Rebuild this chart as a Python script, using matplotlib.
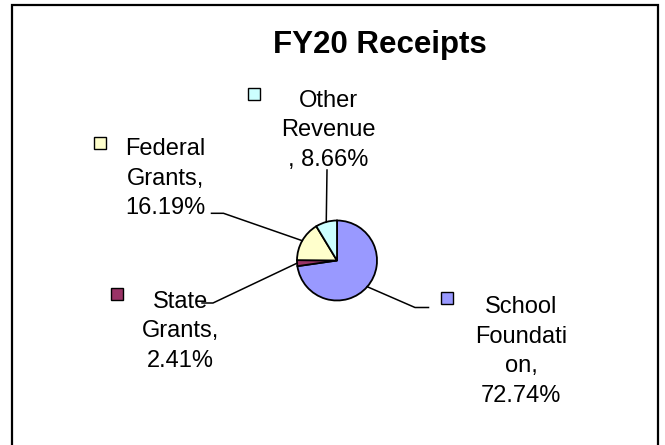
import numpy as np
import matplotlib.pyplot as plt
from matplotlib.patches import Rectangle

# Data
categories = ['School\nFoundati\non', 'State\nGrants', 'Federal\nGrants', 'Other\nRevenue\n']
shares = [72.74, 2.41, 16.19, 8.66]
colors = ['#9999FF', '#993366', '#FFFFCC', '#CCFFFF']
title = 'FY20 Receipts'

# Layout (pixel coords, y measured from top of image)
W, H = 665, 445
pie_center = (337, 260.5)
pie_radius = 40
label_pos = [(521, 401.7), (180.5, 366.7), (165, 214), (328, 165.7)]   # centre x, last baseline
marker_pos = [(446.5, 297.5), (116.5, 293.5), (99.5, 143), (254, 93.5)]
leader_elbow = [(415, 307.5), (213, 303), (223.5, 213.3), (327, 170)]
leader_end = [(428.5, 307.5), (202, 303), (211.5, 213.3), (327, 170)]

fig = plt.figure(figsize=(W / 100, H / 100), dpi=100)
ax = fig.add_axes([0, 0, 1, 1])

def flip(p):
    return (p[0], H - p[1])

wedges, _ = ax.pie(shares, colors=colors, startangle=90, counterclock=False,
                   center=flip(pie_center), radius=pie_radius,
                   wedgeprops=dict(edgecolor='black', linewidth=1.3))
ax.set_xlim(0, W)
ax.set_ylim(0, H)
ax.set_aspect('auto')
ax.axis('off')

font = 'Liberation Sans'
for i, w in enumerate(wedges):
    mid = np.deg2rad((w.theta1 + w.theta2) / 2)
    cx, cy = flip(pie_center)
    rim = (cx + pie_radius * np.cos(mid), cy + pie_radius * np.sin(mid))
    el = flip(leader_elbow[i])
    en = flip(leader_end[i])
    ax.plot([rim[0], el[0], en[0]], [rim[1], el[1], en[1]], color='black', lw=1.1, zorder=5)

    # Excel-style label: "name, value%" wrapped the same way as the source
    txt = categories[i] + ', ' + f'{shares[i]:.2f}%'
    txt = txt.replace(', ', ',\n') if not categories[i].endswith('\n') else txt
    lx, ly = flip(label_pos[i])
    ax.text(lx, ly, txt, ha='center', va='baseline', multialignment='center',
            fontsize=17, family=font, linespacing=1.44, zorder=4)

    mx, my = flip(marker_pos[i])
    ax.plot(mx, my, marker='s', markersize=9, markerfacecolor=colors[i],
            markeredgecolor='black', markeredgewidth=1.0, linestyle='none')

tx, ty = flip((380, 53))
ax.text(tx, ty, title, ha='center', va='baseline', fontsize=22.5,
        fontweight='bold', family=font)

# chart frame (bottom edge falls outside the picture)
fig.patches.append(Rectangle((12, -20), 645.5, H - 4.5 + 20, transform=None,
                             fill=False, edgecolor='black', linewidth=1.6))

fig.savefig('out.png', dpi=100)
